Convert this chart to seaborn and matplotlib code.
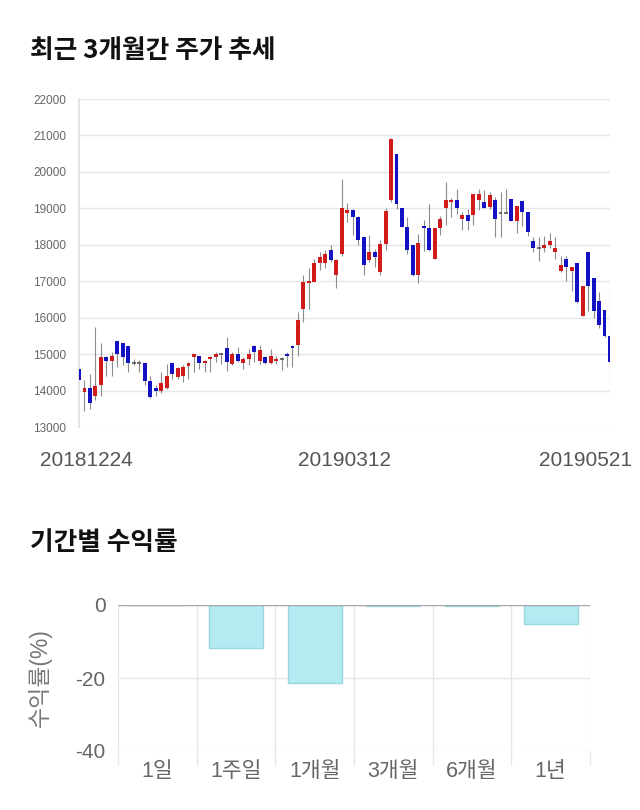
import matplotlib
matplotlib.use("Agg")
import matplotlib.pyplot as plt
import matplotlib.transforms as mtransforms
import numpy as np
import pandas as pd
import seaborn as sns

# 일봉 데이터
opens = [14580, 13960, 14060, 13860, 14160, 14920, 14800, 15360, 15300, 15210,
         14760, 14760, 14750, 14260, 14060, 14000, 14060, 14750, 14370, 14410,
         14670, 14920, 14960, 14750, 14860, 14920, 15010, 15160, 14720, 15000,
         14760, 14860, 15210, 14810, 14910, 14760, 14810, 14870, 15000, 15210,
         15260, 16250, 16960, 16980, 17510, 17510, 17850, 17160, 17760, 18870,
         18950, 18760, 18210, 17570, 17800, 17260, 18030, 19220, 20500, 19000,
         18500, 18000, 17170, 18510, 18460, 17610, 18460, 19010, 19170, 19220,
         18720, 18810, 18810, 19220, 19170, 19040, 19220, 18880, 18880, 19250,
         18650, 19200, 18900, 18090, 17900, 17900, 18000, 17800, 17290, 17600,
         17290, 17500, 16050, 17800, 17100, 16450, 16210, 15500]
highs = [14600, 14290, 14450, 15740, 15310, 14960, 15050, 15360, 15300, 15230,
         14870, 14830, 14750, 14410, 14140, 14500, 14730, 14750, 14640, 14690,
         14780, 15000, 14960, 14830, 14960, 15050, 15030, 15470, 15050, 15190,
         14920, 15150, 15240, 15240, 14960, 15150, 14960, 14920, 15050, 15240,
         16160, 17160, 17350, 17620, 17800, 17850, 18000, 17600, 19810, 19150,
         18980, 18800, 18210, 18260, 17890, 18120, 19000, 20930, 20500, 19000,
         18760, 18000, 18300, 18670, 19130, 18460, 18800, 19720, 19270, 19520,
         18900, 18990, 19400, 19520, 19500, 19450, 19310, 19440, 19530, 19250,
         19060, 19200, 18900, 18200, 18200, 18240, 18330, 18200, 17700, 17700,
         17400, 17500, 16860, 17800, 17100, 16700, 16210, 16830]
lows = [14280, 13450, 13500, 13730, 13860, 14410, 14410, 14640, 14690, 14500,
        14690, 14520, 14140, 13800, 13860, 13940, 14040, 14320, 14320, 14230,
        14320, 14500, 14600, 14510, 14510, 14780, 14730, 14550, 14690, 14770,
        14600, 14690, 14780, 14740, 14740, 14740, 14740, 14560, 14640, 14640,
        14960, 15880, 16250, 16980, 17300, 17350, 17530, 16820, 17700, 18630,
        18260, 18000, 17160, 17530, 17400, 17160, 17850, 19170, 18990, 18480,
        17760, 17150, 16950, 17840, 17840, 17600, 18260, 18530, 18760, 18850,
        18400, 18400, 18530, 18950, 19000, 18990, 18210, 18220, 18870, 18650,
        18330, 18520, 18240, 17790, 17560, 17790, 17900, 17600, 17240, 17010,
        16740, 16400, 16050, 16190, 16000, 15730, 15460, 14000]
closes = [14300, 14060, 13650, 14120, 14920, 14800, 14960, 15010, 14920, 14760,
          14760, 14760, 14260, 13810, 14000, 14200, 14410, 14460, 14610, 14660,
          14750, 15000, 14760, 14810, 14920, 15010, 15010, 14780, 15000, 14810,
          14860, 15000, 15070, 15100, 14760, 14960, 14870, 14870, 14960, 15170,
          15930, 16980, 17010, 17490, 17660, 17750, 17570, 17570, 19000, 18950,
          18760, 18120, 17440, 17800, 17670, 18030, 18920, 20910, 19130, 18500,
          17850, 17180, 18060, 18460, 17860, 18460, 18720, 19220, 19220, 19010,
          18830, 18650, 19400, 19400, 19010, 19360, 18720, 18880, 18880, 18650,
          19060, 18900, 18350, 17900, 17900, 17990, 18090, 17900, 17440, 17400,
          17400, 16420, 16860, 16860, 16190, 15800, 15500, 14790]
date_labels = ["20181224", "20190312", "20190521"]
date_index = [0, 49, 97]

# 기간별 수익률
periods = ["1일", "1주일", "1개월", "3개월", "6개월", "1년"]
returns = [0.0, -11.8, -21.3, -0.2, -0.2, -5.3]

sns.set_theme(style="white")
plt.rcParams['font.family'] = ['Liberation Sans', 'Noto Sans CJK KR', 'DejaVu Sans']

fig = plt.figure(figsize=(6.4, 8.1), dpi=100)

# ---- 주가 추세 (캔들차트) ----
ax1 = fig.add_axes([79 / 640, 1 - 427 / 810, 531 / 640, 328 / 810])
df = pd.DataFrame({"open": opens, "high": highs, "low": lows, "close": closes})
df["idx"] = np.arange(len(df))

ax1.vlines(df["idx"], df["low"], df["high"], color="#8c8c8c", linewidth=0.8, zorder=2)
for mask, col in [(df["close"] > df["open"], "#d11a1a"), (df["close"] < df["open"], "#1212c2")]:
    sub = df[mask]
    ax1.bar(sub["idx"], (sub["close"] - sub["open"]).abs(),
            bottom=sub[["open", "close"]].min(axis=1),
            width=0.72, color=col, linewidth=0, zorder=3)
flat = df[df["close"] == df["open"]]
ax1.hlines(flat["close"], flat["idx"] - 0.36, flat["idx"] + 0.36,
           color="#555555", linewidth=1.2, zorder=3)

ax1.set_xlim(0, len(df) - 1)
ax1.set_ylim(13000, 22000)
ax1.set_yticks(np.arange(13000, 22001, 1000))
ax1.yaxis.grid(True, color="#e6e6e6", linewidth=1)
ax1.xaxis.grid(False)
for s in ["top", "right", "bottom"]:
    ax1.spines[s].set_visible(False)
ax1.spines["left"].set_color("#e0e0e0")
ax1.tick_params(axis="y", length=7, color="#e0e0e0", labelsize=8.5, labelcolor="#666666", pad=2)
ax1.set_xticks(date_index)
ax1.set_xticklabels(date_labels)
ax1.tick_params(axis="x", length=0, labelsize=15, labelcolor="#555555", pad=17)
for lab, dx in zip(ax1.get_xticklabels(), [7, -3, -25]):
    lab.set_transform(lab.get_transform() + mtransforms.ScaledTranslation(dx / 100, 0, fig.dpi_scale_trans))

# ---- 기간별 수익률 (막대) ----
ax2 = fig.add_axes([118 / 640, 1 - 751 / 810, 472 / 640, 146 / 810])
sns.barplot(x=periods, y=returns, ax=ax2, color="#b2ebf2", edgecolor="#9ad6e2",
            linewidth=1, width=0.69, saturation=1, zorder=3)
ax2.set_ylim(-40, 0)
ax2.set_xlim(-0.5, len(periods) - 0.5)
ax2.set_yticks([0, -20, -40])
ax2.set_yticklabels(["0", "-20", "-40"])
ax2.yaxis.grid(True, color="#e6e6e6", linewidth=1)
ax2.set_xticks(np.arange(-0.5, len(periods), 1), minor=True)
ax2.xaxis.grid(True, which="minor", color="#e6e6e6", linewidth=1)
ax2.xaxis.grid(False, which="major")
ax2.axhline(0, color="#a8a8a8", linewidth=1, zorder=4)
for s in ax2.spines.values():
    s.set_visible(False)
ax2.tick_params(axis="x", which="minor", length=10, color="#e6e6e6", bottom=True)
ax2.tick_params(axis="x", which="major", length=0, labelsize=15.5, labelcolor="#666666", pad=7)
ax2.tick_params(axis="y", length=0, labelsize=15, labelcolor="#666666", pad=9)
ax2.set_ylabel("수익률(%)", fontsize=16.5, color="#777777")
ax2.yaxis.set_label_coords(-0.14, 0.5)

fig.text(30 / 640, 1 - 50 / 810, "최근 3개월간 주가 추세", fontsize=18.5, fontweight="bold",
         va="center", color="#111111", family="Noto Sans CJK KR")
fig.text(30 / 640, 1 - 543 / 810, "기간별 수익률", fontsize=18.5, fontweight="bold",
         va="center", color="#111111", family="Noto Sans CJK KR")

fig.savefig("out.png", dpi=100)
